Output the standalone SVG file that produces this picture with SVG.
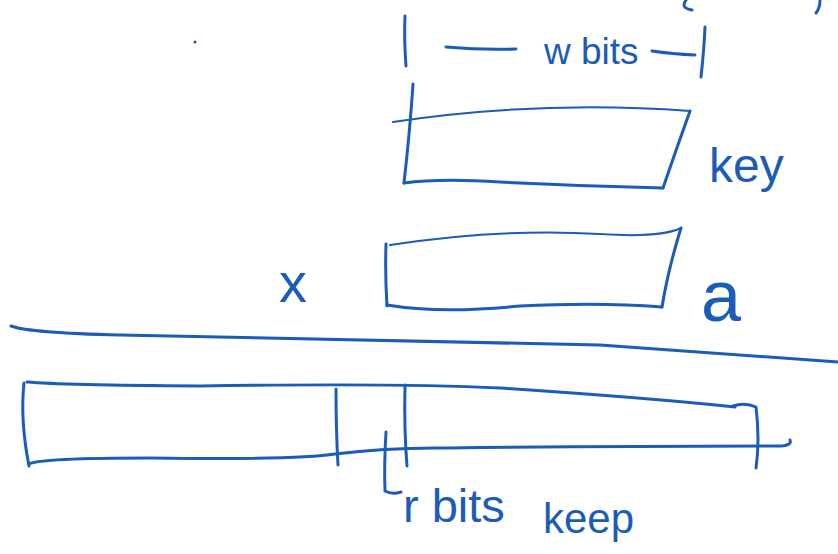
<svg xmlns="http://www.w3.org/2000/svg" width="838" height="554" viewBox="0 0 838 554">
<style>
.ink{fill:none;stroke:#1b5cb8;stroke-width:3;stroke-linecap:round;stroke-linejoin:round}
.thin{stroke-width:2}
.lbl{fill:#1b5cb8;font-family:"Liberation Sans",Arial,sans-serif}
</style>
<rect width="838" height="554" fill="#ffffff"/>
<g id="scribbles">
<path class="ink" d="M686 0 Q680 8 692 10 M820 0 Q820 8 816 13"/>
<circle cx="195" cy="42" r="1.5" fill="#1b5cb8"/>
</g>
<g id="width-dimension">
<path class="ink" d="M405 16 Q404 40 406 66"/>
<path class="ink" d="M446 47 Q480 50 516 49"/>
<text class="lbl" x="544" y="64" font-size="37">w bits</text>
<path class="ink" d="M652 51 Q672 54 695 55"/>
<path class="ink" d="M705 27 Q704 50 701 77"/>
</g>
<g id="key-box">
<path class="ink" d="M413 84 Q410 130 404 183"/>
<path class="ink thin" d="M393 122 Q540 100 690 111"/>
<path class="ink" d="M690 111 Q676 150 663 188"/>
<path class="ink" d="M404 183 Q440 178 500 182 Q580 186 663 188"/>
<text class="lbl" x="709" y="182" font-size="48">key</text>
</g>
<g id="a-box">
<text class="lbl" x="279" y="302" font-size="56">x</text>
<path class="ink" d="M386 244 Q385 275 387 306"/>
<path class="ink thin" d="M390 245 Q500 228 600 234 Q660 238 681 228"/>
<path class="ink" d="M681 228 Q668 270 662 307"/>
<path class="ink" d="M387 305 Q440 314 520 306 Q600 302 662 307"/>
<text class="lbl" x="701" y="321" font-size="72">a</text>
</g>
<g id="divider">
<path class="ink" d="M11 326 Q30 333 120 335 Q400 340 600 345 Q760 356 838 362"/>
</g>
<g id="long-bar">
<path class="ink" d="M24 383 Q20 420 29 466"/>
<path class="ink" d="M27 382 Q60 385 200 386 Q400 383 500 388 Q650 398 735 407"/>
<path class="ink" d="M733 406 Q745 402 756 407 Q760 440 756 468"/>
<path class="ink" d="M29 464 Q40 458 150 458 Q300 460 335 454 Q390 447 450 448 Q620 446 782 446 Q792 445 790 440"/>
<path class="ink" d="M336 389 Q336 430 338 465"/>
<path class="ink" d="M405 385 Q404 430 407 466"/>
</g>
<g id="r-bits">
<path class="ink" d="M386 432 Q384 465 385 491 Q392 495 401 492"/>
<text class="lbl" x="403" y="522" font-size="47">r bits</text>
<text class="lbl" x="543" y="533" font-size="42">keep</text>
</g>
</svg>
